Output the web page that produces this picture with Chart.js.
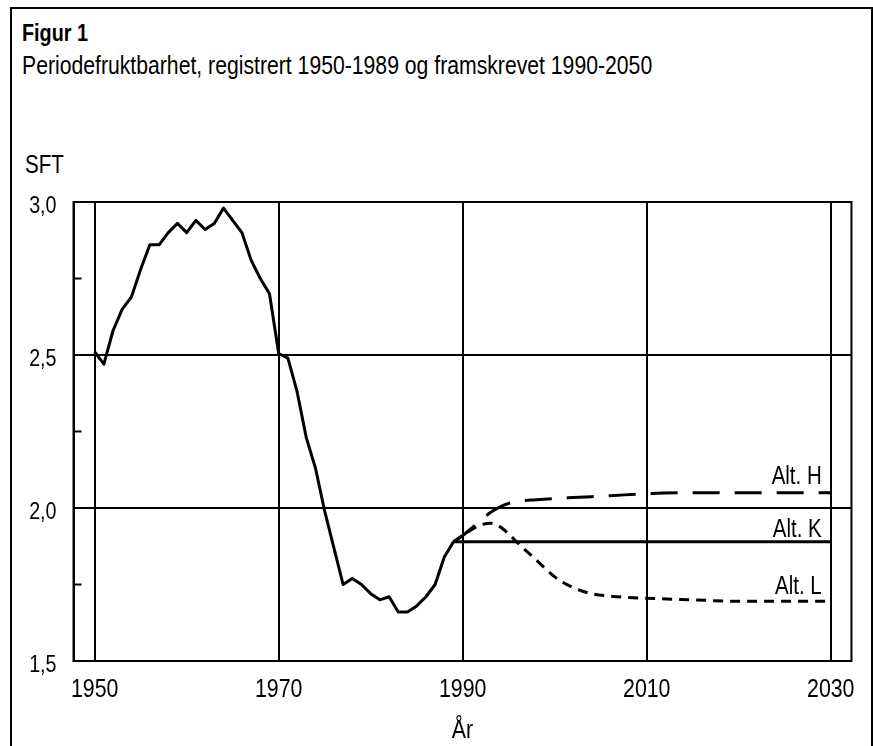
<!DOCTYPE html>
<html>
<head>
<meta charset="utf-8">
<script src="https://cdn.jsdelivr.net/npm/chart.js@4"></script>
<style>
  html, body { margin: 0; padding: 0; background: #fff; overflow: hidden; }
  body { width: 873px; height: 746px; position: relative; font-family: "Liberation Sans", Arial, sans-serif; color: #000; }
  #frame { position: absolute; left: 10px; top: 7px; width: 859px; height: 800px; border: 2px solid #000; border-bottom: none; }
  .txt { position: absolute; line-height: 1; white-space: nowrap; transform-origin: 0 0; transform: scaleX(0.82); }
  #title { left: 22px; top: 22px; font-size: 23px; font-weight: bold; transform: scaleX(0.86); }
  #subtitle { left: 22px; top: 52px; font-size: 26px; transform: scaleX(0.815); }
  #unit { left: 25px; top: 152px; font-size: 25px; }
  canvas { position: absolute; left: 0; top: 0; }
</style>
</head>
<body>
<div id="frame"></div>
<div class="txt" id="title">Figur 1</div>
<div class="txt" id="subtitle">Periodefruktbarhet, registrert 1950-1989 og framskrevet 1990-2050</div>
<div class="txt" id="unit">SFT</div>
<canvas id="chart" width="873" height="746"></canvas>
<script>
// Registered fertility 1950-1989
const histYears = [1950, 1951, 1952, 1953, 1954, 1955, 1956, 1957, 1958, 1959,
                   1960, 1961, 1962, 1963, 1964, 1965, 1966, 1967, 1968, 1969,
                   1970, 1971, 1972, 1973, 1974, 1975, 1976, 1977, 1978, 1979,
                   1980, 1981, 1982, 1983, 1984, 1985, 1986, 1987, 1988, 1989];
const histSft = [2.51, 2.47, 2.58, 2.65, 2.69, 2.78, 2.86, 2.86, 2.90, 2.93,
                 2.90, 2.94, 2.91, 2.93, 2.98, 2.94, 2.90, 2.81, 2.75, 2.70,
                 2.505, 2.49, 2.38, 2.23, 2.13, 1.99, 1.87, 1.75, 1.77, 1.75,
                 1.72, 1.70, 1.71, 1.66, 1.66, 1.68, 1.71, 1.75, 1.84, 1.89];

// Projections
const projYears = [1989, 1990, 1991, 1992, 1993, 1994, 1995, 1996, 1998, 2000,
                   2002, 2004, 2006, 2010, 2015, 2020, 2025, 2030];
const altH = [1.89, 1.91, 1.935, 1.96, 1.985, 2.003, 2.015, 2.022, 2.027, 2.031,
              2.034, 2.037, 2.04, 2.047, 2.05, 2.05, 2.05, 2.05];
const altK = [1.89, 1.89, 1.89, 1.89, 1.89, 1.89, 1.89, 1.89, 1.89, 1.89,
              1.89, 1.89, 1.89, 1.89, 1.89, 1.89, 1.89, 1.89];
const altL = [1.89, 1.91, 1.93, 1.945, 1.95, 1.94, 1.915, 1.885, 1.83, 1.775,
              1.74, 1.72, 1.712, 1.705, 1.70, 1.695, 1.695, 1.695];
const altNames = ['Alt. H', 'Alt. K', 'Alt. L'];

// Axes
const xTickYears = [1950, 1970, 1990, 2010, 2030];
const yTickValues = [1.5, 1.75, 2.0, 2.25, 2.5, 2.75, 3.0];

const FONT = '"Liberation Sans", Arial, sans-serif';
// the original uses a condensed face; squeeze canvas text horizontally
const TEXT_SQUEEZE = 0.82;

function toPoints(xs, ys) {
    return xs.map((x, i) => ({ x: x, y: ys[i] }));
}

function isMajor(v) {
    return Math.abs(v * 2 - Math.round(v * 2)) < 1e-9;
}

// Frame, inner minor ticks and the Alt. labels
const decorPlugin = {
    id: 'decor',
    afterDraw(chart) {
        const ctx = chart.ctx;
        const area = chart.chartArea;
        const xs = chart.scales.x;
        const ys = chart.scales.y;
        ctx.save();
        ctx.strokeStyle = '#000';
        ctx.lineWidth = 2;
        ctx.strokeRect(area.left, area.top, area.right - area.left, area.bottom - area.top);

        yTickValues.filter(v => !isMajor(v)).forEach(v => {
            const py = ys.getPixelForValue(v);
            ctx.beginPath();
            ctx.moveTo(area.left, py);
            ctx.lineTo(area.left + 8, py);
            ctx.stroke();
        });

        ctx.fillStyle = '#000';
        ctx.font = '25px ' + FONT;
        ctx.textAlign = 'right';
        ctx.textBaseline = 'alphabetic';
        const right = xs.getPixelForValue(2030) - 9;
        const rises = [9, 5, 7];
        [altH, altK, altL].forEach((series, i) => {
            const py = ys.getPixelForValue(series[series.length - 1]);
            ctx.fillText(altNames[i], right, py - rises[i]);
        });
        ctx.restore();
    }
};

const ctx = document.getElementById('chart').getContext('2d');
const rawFillText = ctx.fillText;
ctx.fillText = function (text, x, y) {
    this.save();
    this.translate(x, y);
    this.scale(TEXT_SQUEEZE, 1);
    rawFillText.call(this, text, 0, 0);
    this.restore();
};

const chart = new Chart(ctx, {
    type: 'line',
    data: {
        datasets: [
            {
                label: 'Registrert',
                data: toPoints(histYears, histSft),
                borderColor: '#000',
                borderWidth: 3,
                borderJoinStyle: 'round',
                pointRadius: 0,
                tension: 0
            },
            {
                label: altNames[0],
                data: toPoints(projYears, altH),
                borderColor: '#000',
                borderWidth: 3,
                borderDash: [27, 15],
                pointRadius: 0,
                cubicInterpolationMode: 'monotone'
            },
            {
                label: altNames[1],
                data: toPoints(projYears, altK),
                borderColor: '#000',
                borderWidth: 3,
                pointRadius: 0,
                tension: 0
            },
            {
                label: altNames[2],
                data: toPoints(projYears, altL),
                borderColor: '#000',
                borderWidth: 3,
                borderDash: [10, 7],
                pointRadius: 0,
                cubicInterpolationMode: 'monotone'
            }
        ]
    },
    options: {
        responsive: false,
        animation: false,
        events: [],
        layout: {
            padding: { top: 202, right: 12, left: 0, bottom: 0 }
        },
        plugins: {
            legend: { display: false },
            tooltip: { enabled: false },
            title: { display: false }
        },
        scales: {
            x: {
                type: 'linear',
                min: 1947.7,
                max: 2032.25,
                afterBuildTicks: scale => {
                    scale.ticks = xTickYears.map(v => ({ value: v }));
                },
                afterFit: scale => { scale.height = 85; },
                grid: {
                    color: '#000',
                    lineWidth: 2,
                    drawTicks: false
                },
                border: { display: true, color: '#000', width: 2 },
                ticks: {
                    color: '#000',
                    font: { family: FONT, size: 26 },
                    padding: 13,
                    maxRotation: 0,
                    callback: v => String(v)
                },
                title: {
                    display: true,
                    text: 'År',
                    color: '#000',
                    font: { family: FONT, size: 26 },
                    padding: { top: 5, bottom: 0 }
                }
            },
            y: {
                type: 'linear',
                min: 1.5,
                max: 3.0,
                afterBuildTicks: scale => {
                    scale.ticks = yTickValues.map(v => ({ value: v }));
                },
                afterFit: scale => { scale.width = 73.5; },
                grid: {
                    color: c => isMajor(c.tick.value) ? '#000' : 'rgba(0,0,0,0)',
                    lineWidth: 2,
                    drawTicks: false
                },
                border: { display: true, color: '#000', width: 2 },
                ticks: {
                    color: '#000',
                    font: { family: FONT, size: 24 },
                    padding: 17,
                    labelOffset: 4,
                    callback: v => isMajor(v) ? v.toFixed(1).replace('.', ',') : ''
                }
            }
        }
    },
    plugins: [decorPlugin]
});
</script>
</body>
</html>
